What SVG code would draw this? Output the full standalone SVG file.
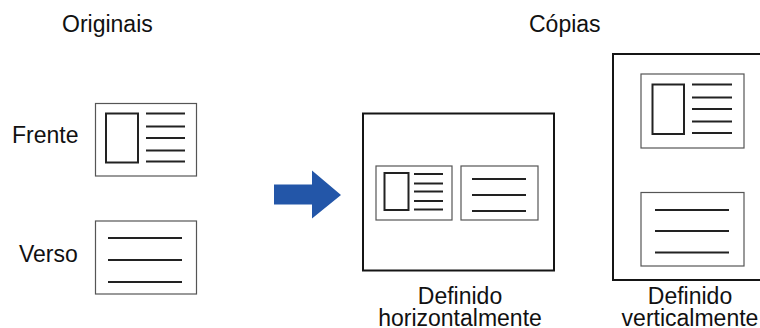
<svg xmlns="http://www.w3.org/2000/svg" width="760" height="328" viewBox="0 0 760 328">
<style>
  text { font-family: "Liberation Sans", Arial, sans-serif; font-size: 23px; fill: #111; }
  .card { fill: #fff; stroke: #555; stroke-width: 1.2; }
  .page { fill: #fff; stroke: #151515; stroke-width: 2; }
  .pic { fill: none; stroke: #222; stroke-width: 2; }
  .ln { stroke: #222; stroke-width: 2; }
  .mid { text-anchor: middle; }
</style>
<rect width="760" height="328" fill="#fff"/>
<text x="62" y="32">Originais</text>
<text x="529" y="32">Cópias</text>
<text x="12" y="142.5">Frente</text>
<text x="19" y="262">Verso</text>

<g id="orig-frente">
  <rect class="card" x="95.5" y="103.5" width="101" height="72.5"/>
  <rect class="pic" x="106" y="113.5" width="32" height="49"/>
  <line class="ln" x1="146" y1="113.5" x2="185" y2="113.5"/>
  <line class="ln" x1="146" y1="126.5" x2="185" y2="126.5"/>
  <line class="ln" x1="146" y1="138" x2="185" y2="138"/>
  <line class="ln" x1="146" y1="150.5" x2="185" y2="150.5"/>
  <line class="ln" x1="146" y1="161.5" x2="185" y2="161.5"/>
</g>

<g id="orig-verso">
  <rect class="card" x="95.5" y="221" width="101" height="73"/>
  <line class="ln" x1="108" y1="238" x2="182" y2="238"/>
  <line class="ln" x1="108" y1="260" x2="182" y2="260"/>
  <line class="ln" x1="108" y1="282" x2="182" y2="282"/>
</g>

<g id="connectors">
  <polygon points="274,184.5 312,184.5 312,170.5 341,195 312,218.5 312,204.5 274,204.5" fill="#2356a8"/>
</g>

<g id="copy-horizontal">
  <rect class="page" x="363" y="113.5" width="191" height="157"/>
  <rect class="card" x="376" y="166" width="76" height="54"/>
  <rect class="pic" x="384.5" y="173" width="24" height="37"/>
  <line class="ln" x1="414" y1="174" x2="443" y2="174"/>
  <line class="ln" x1="414" y1="183.5" x2="443" y2="183.5"/>
  <line class="ln" x1="414" y1="191.5" x2="443" y2="191.5"/>
  <line class="ln" x1="414" y1="201" x2="443" y2="201"/>
  <line class="ln" x1="414" y1="209.5" x2="443" y2="209.5"/>
  <rect class="card" x="461" y="166" width="77" height="54"/>
  <line class="ln" x1="472" y1="179" x2="526" y2="179"/>
  <line class="ln" x1="472" y1="195" x2="526" y2="195"/>
  <line class="ln" x1="472" y1="211" x2="526" y2="211"/>
  <text class="mid" x="460" y="304">Definido</text>
  <text class="mid" x="460" y="326">horizontalmente</text>
</g>

<g id="copy-vertical">
  <rect class="page" x="613" y="54" width="160" height="226"/>
  <rect class="card" x="641" y="74" width="103" height="74"/>
  <rect class="pic" x="652.5" y="84.5" width="31.5" height="49.5"/>
  <line class="ln" x1="692" y1="84.5" x2="732" y2="84.5"/>
  <line class="ln" x1="692" y1="97.5" x2="732" y2="97.5"/>
  <line class="ln" x1="692" y1="109" x2="732" y2="109"/>
  <line class="ln" x1="692" y1="121.5" x2="732" y2="121.5"/>
  <line class="ln" x1="692" y1="133" x2="732" y2="133"/>
  <rect class="card" x="641" y="192.5" width="103" height="73.5"/>
  <line class="ln" x1="655" y1="210" x2="729" y2="210"/>
  <line class="ln" x1="655" y1="231" x2="729" y2="231"/>
  <line class="ln" x1="655" y1="252.5" x2="729" y2="252.5"/>
  <text class="mid" x="690" y="304">Definido</text>
  <text class="mid" x="690" y="326">verticalmente</text>
</g>
</svg>
